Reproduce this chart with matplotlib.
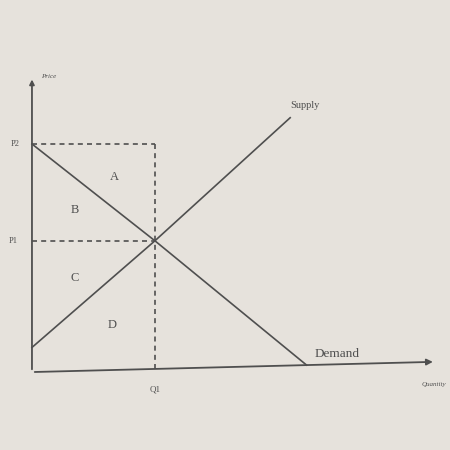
import numpy as np
import matplotlib.pyplot as plt
import matplotlib as mpl

mpl.rcParams['font.family'] = ['Liberation Serif', 'DejaVu Serif']

# supply / demand diagram values (quantity, price)
supply_q = [0.0, 3.0, 6.3]
supply_p = [0.6, 3.2, 6.2]
demand_q = [0.0, 3.0, 6.7]
demand_p = [5.56, 3.2, 0.17]
q1 = 3.0
p1 = 3.2
p2 = 5.56
area_labels = ['A', 'B', 'C', 'D']
area_q = [2.0, 1.05, 1.05, 1.95]
area_p = [4.75, 3.95, 2.3, 1.15]

ink = '#4f4f4f'
paper = '#e6e2dc'

fig = plt.figure(figsize=(4.5, 4.5), dpi=100, facecolor=paper)
ax = fig.add_axes([0, 0, 1, 1])
ax.set_facecolor(paper)
ax.set_xlim(-0.78, 10.2)
ax.set_ylim(-1.9, 9.07)
ax.axis('off')

# axes with arrows
ax.annotate('', xy=(9.85, 0.25), xytext=(0, 0),
            arrowprops=dict(arrowstyle='-|>', color=ink, lw=1.3, mutation_scale=9))
ax.annotate('', xy=(0, 7.2), xytext=(0, 0),
            arrowprops=dict(arrowstyle='-|>', color=ink, lw=1.3, mutation_scale=7))

# curves
ax.plot(supply_q, supply_p, color=ink, lw=1.2)
ax.plot(demand_q, demand_p, color=ink, lw=1.2)

# dashed guides
ax.plot([0, q1], [p2, p2], color=ink, lw=1.2, ls=(0, (3, 2.5)))
ax.plot([q1, q1], [p2, 0], color=ink, lw=1.2, ls=(0, (3, 2.5)))
ax.plot([0, q1], [p1, p1], color=ink, lw=1.2, ls=(0, (3, 2.5)))

# labels
ax.text(0.22, 7.2, 'Price', fontsize=5, style='italic', color=ink, va='center')
ax.text(9.8, -0.3, 'Quantity', fontsize=5, style='italic', color=ink, ha='center', va='center')
ax.text(-0.42, p2, 'P2', fontsize=6, color=ink, ha='center', va='center')
ax.text(-0.45, p1, 'P1', fontsize=6, color=ink, ha='center', va='center')
ax.text(q1, -0.42, 'Q1', fontsize=6.5, color=ink, ha='center', va='center')
ax.text(6.65, 6.5, 'Supply', fontsize=7.5, color=ink, ha='center', va='center')
ax.text(7.45, 0.45, 'Demand', fontsize=9.5, color=ink, ha='center', va='center')
for lab, q, p in zip(area_labels, area_q, area_p):
    ax.text(q, p, lab, fontsize=9, color=ink, ha='center', va='center')

fig.savefig('out.png', dpi=100, facecolor=paper)
